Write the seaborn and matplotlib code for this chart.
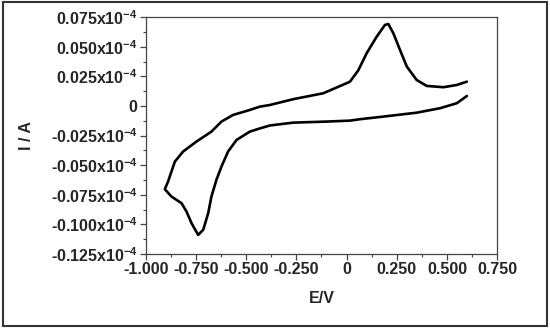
import numpy as np
import pandas as pd
import matplotlib
matplotlib.use("Agg")
import matplotlib.pyplot as plt
import seaborn as sns
from matplotlib.ticker import MultipleLocator
from matplotlib.patches import Rectangle

# potential (V) and current (x10^-4 A), traced round the loop:
# upper (anodic) branch right to left, then the cathodic peak, then back along the lower branch
potential = [
    0.599, 0.549, 0.482, 0.399, 0.349, 0.300, 0.266, 0.233, 0.208, 0.191,
    0.150, 0.100, 0.058, 0.017, 0.000, -0.116, -0.266, -0.382, -0.432, -0.482,
    -0.565, -0.623, -0.673, -0.747, -0.814, -0.855, -0.872, -0.889, -0.905,
    -0.872, -0.822, -0.797, -0.772, -0.739, -0.714, -0.689, -0.673, -0.648,
    -0.623, -0.590, -0.548, -0.482, -0.432, -0.382, -0.266, -0.099, 0.017,
    0.067, 0.183, 0.349, 0.466, 0.549, 0.599,
]
current = [
    0.0205, 0.0177, 0.0158, 0.0169, 0.0219, 0.0332, 0.0473, 0.0613, 0.0692, 0.0684,
    0.0585, 0.0445, 0.0300, 0.0205, 0.0192, 0.0107, 0.0057, 0.0008, -0.0006, -0.0034,
    -0.0076, -0.0132, -0.0217, -0.0300, -0.0385, -0.0470, -0.0554, -0.0639, -0.0703,
    -0.0765, -0.0821, -0.0892, -0.0990, -0.1089, -0.1046, -0.0905, -0.0765, -0.0624,
    -0.0512, -0.0385, -0.0287, -0.0217, -0.0190, -0.0165, -0.0141, -0.0132, -0.0124,
    -0.0112, -0.0090, -0.0057, -0.0019, 0.0023, 0.0084,
]

x_ticks = [-1.0, -0.75, -0.5, -0.25, 0.0, 0.25, 0.5, 0.75]
x_labels = ["-1.000", "-0.750", "-0.500", "-0.250", "0", "0.250", "0.500", "0.750"]
y_ticks = [0.075, 0.05, 0.025, 0.0, -0.025, -0.05, -0.075, -0.1, -0.125]
y_labels = ["0.075x10$^{-4}$", "0.050x10$^{-4}$", "0.025x10$^{-4}$", "0",
            "-0.025x10$^{-4}$", "-0.050x10$^{-4}$", "-0.075x10$^{-4}$",
            "-0.100x10$^{-4}$", "-0.125x10$^{-4}$"]

df = pd.DataFrame({"E": potential, "I": current})

sns.set_style("ticks")
plt.rcParams["font.family"] = ["Liberation Sans", "DejaVu Sans"]
plt.rcParams["font.weight"] = "bold"
plt.rcParams["mathtext.fontset"] = "custom"
plt.rcParams["mathtext.bf"] = "Liberation Sans:bold"
plt.rcParams["mathtext.rm"] = "Liberation Sans:bold"
plt.rcParams["mathtext.default"] = "bf"

fig = plt.figure(figsize=(5.5, 3.29), dpi=100)
ax = fig.add_axes([0.265, 0.228, 0.639, 0.72])

sns.lineplot(data=df, x="E", y="I", sort=False, estimator=None, ax=ax,
             color="black", linewidth=1.9)

ax.set_xlim(-1.0, 0.75)
ax.set_ylim(-0.125, 0.075)
ax.set_xticks(x_ticks)
ax.set_xticklabels(x_labels, fontsize=11.5, fontweight="bold")
ax.set_yticks(y_ticks)
ax.set_yticklabels(y_labels, fontsize=11.5, fontweight="bold")
ax.xaxis.set_minor_locator(MultipleLocator(0.125))
ax.yaxis.set_minor_locator(MultipleLocator(0.0125))
ax.tick_params(which="major", direction="out", length=4, width=0.9, pad=2,
               color="#444444")
ax.tick_params(which="minor", direction="out", length=2.5, width=0.8,
               color="#444444")
for s in ax.spines.values():
    s.set_linewidth(0.9)
    s.set_color("#444444")

ax.set_xlabel("E/V", fontsize=11.5, fontweight="bold", labelpad=10)
ax.set_ylabel("I / A", fontsize=11.5, fontweight="bold", labelpad=12)

fig.patches.append(Rectangle((0.005, 0.008), 0.99, 0.985, transform=fig.transFigure,
                             fill=False, edgecolor="#333333", linewidth=1.5))

fig.savefig("out.png", dpi=100)
